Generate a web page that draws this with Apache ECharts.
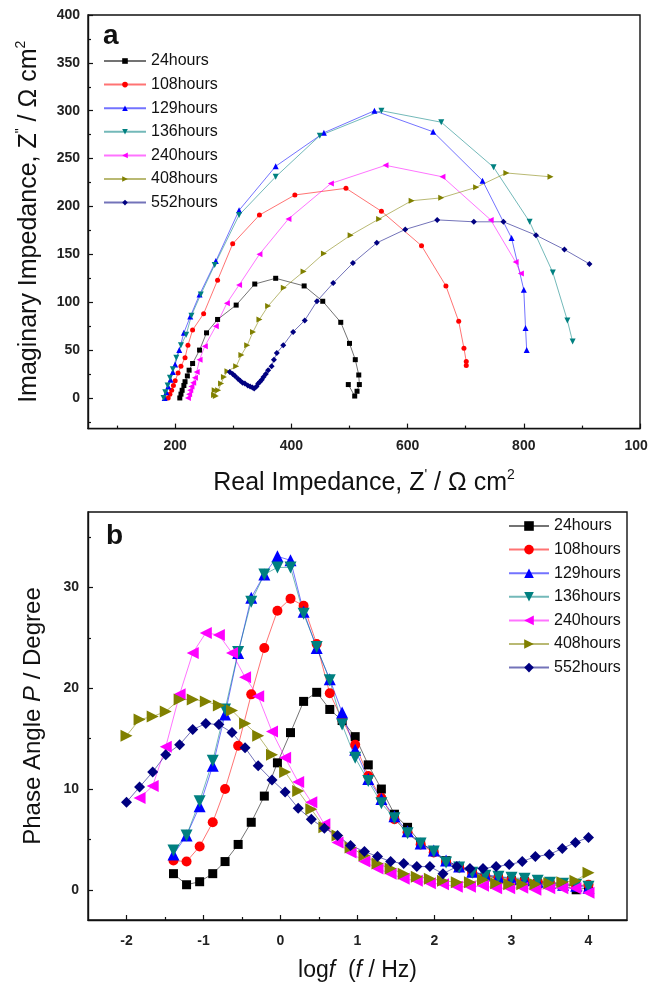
<!DOCTYPE html>
<html>
<head>
<meta charset="utf-8">
<script src="https://cdn.jsdelivr.net/npm/echarts@6/dist/echarts.min.js"></script>
<style>
  html, body { margin: 0; padding: 0; background: #fff; }
  #chart { width: 661px; height: 986px; }
</style>
</head>
<body>
<div id="chart"></div>
<script>
// ---- series names, colours and marker shapes ----
const seriesNames = ['24hours', '108hours', '129hours', '136hours', '240hours', '408hours', '552hours'];
const seriesColors = ['#000000', '#ff0000', '#0000ff', '#008080', '#ff00ff', '#808000', '#000080'];
const markerShapes = ['rect', 'circle', 'triangle', 'triangle', 'triangle', 'triangle', 'diamond'];
const markerTurns = [0, 0, 0, 180, 90, -90, 0];

// ---- panel a: Nyquist plots, [Z', Z''] in ohm cm2 ----
const nyq24 = [[208,0],[210,4],[212,8],[215,13],[217,17],[221,23],[224,29],[230,36],[242,50],[254,68],[273,82],[305,97],[337,119],[373,125],[422,117],[454,101],[485,79],[500,57],[510,40],[516,24],[517,14],[513,7],[509,2],[498,14]];
const nyq108 = [[188,0],[191,4],[194,8],[197,13],[200,18],[205,26],[210,33],[217,42],[222,55],[230,71],[249,88],[273,123],[299,161],[345,191],[406,212],[494,219],[555,195],[624,159],[666,117],[688,80],[697,52],[701,38],[701,34]];
const nyq129 = [[182,0],[185,6],[188,12],[192,19],[196,27],[200,35],[207,50],[215,68],[226,85],[242,108],[270,143],[310,196],[373,242],[456,277],[543,300],[644,278],[729,227],[779,167],[800,113],[803,73],[805,50]];
const nyq136 = [[180,0],[183,6],[187,13],[191,21],[196,30],[202,42],[210,55],[219,66],[228,86],[244,108],[268,139],[310,191],[373,231],[449,274],[555,300],[658,288],[748,241],[810,184],[850,131],[875,81],[884,59]];
const nyq240 = [[222,0],[224,4],[226,8],[228,12],[231,16],[234,21],[237,27],[242,40],[251,54],[270,75],[289,99],[310,118],[345,150],[395,187],[468,224],[562,243],[660,231],[743,186],[786,142],[795,130]];
const nyq408 = [[268,8],[267,3],[270,2],[274,8],[279,15],[284,22],[290,28],[305,33],[314,45],[324,55],[334,69],[345,82],[360,96],[387,115],[421,132],[456,151],[502,170],[551,187],[607,206],[658,209],[718,220],[770,235],[846,231]];
const nyq552 = [[294,27],[299,25],[303,23],[308,20],[312,18],[316,16],[320,15],[325,13],[329,12],[333,11],[336,10],[340,12],[343,15],[346,17],[349,19],[352,22],[356,25],[360,29],[366,33],[370,40],[375,47],[386,55],[403,69],[423,81],[444,101],[472,120],[506,141],[547,162],[596,176],[651,186],[714,184],[765,184],[821,170],[870,155],[913,140]];
const nyquistData = [nyq24, nyq108, nyq129, nyq136, nyq240, nyq408, nyq552];

// panel a axes
const aXRange = [50, 1000];
const aYRange = [-32, 400];
const aXTicks = [200, 400, 600, 800, 1000];
const aXMinor = [100, 300, 500, 700, 900];
const aYTicks = [0, 50, 100, 150, 200, 250, 300, 350, 400];
const aYMinor = [-25, 25, 75, 125, 175, 225, 275, 325, 375];

// ---- panel b: Bode phase plots, log f vs phase angle ----
const logfA = [-1.39,-1.22,-1.05,-0.88,-0.72,-0.55,-0.38,-0.21,-0.04,0.13,0.30,0.47,0.64,0.80,0.97,1.14,1.31,1.48,1.65,1.82,1.99,2.15,2.32,2.49,2.66,2.83,3.00,3.17,3.34,3.50,3.67,3.84,4.00];
const logfB = [-2.00,-1.83,-1.66,-1.49,-1.31,-1.14,-0.97,-0.80,-0.63,-0.46,-0.29,-0.11,0.06,0.23,0.40,0.57,0.74,0.91,1.09,1.26,1.43,1.60,1.77,1.94,2.11,2.29,2.46,2.63,2.80,2.97,3.14,3.31,3.49,3.66,3.83,4.00];

const phase24 = [1.6,0.5,0.8,1.6,2.8,4.5,6.7,9.3,12.6,15.6,18.7,19.6,17.9,16.8,15.2,12.4,10.0,7.5,6.2,4.7,3.8,2.9,2.3,1.8,1.4,1.1,0.9,0.8,0.6,0.5,0.4,0.0,0.2];
const phase108 = [2.9,2.8,4.3,6.7,10.0,14.3,19.4,24.0,27.7,28.9,28.2,24.4,19.5,16.9,14.4,11.3,9.1,7.0,5.7,4.5,3.7,2.8,2.2,1.7,1.4,1.2,1.0,0.9,0.8,0.6,0.5,0.4,0.5];
const phase129 = [3.5,5.4,8.3,12.3,17.4,23.5,29.0,31.3,33.1,32.7,27.6,24.0,20.9,17.6,13.9,11.0,9.0,7.3,5.8,4.6,3.9,2.9,2.3,1.8,1.5,1.3,1.1,1.0,0.8,0.7,0.5,0.4,0.2];
const phase136 = [3.9,5.4,8.8,12.8,17.9,23.6,28.6,31.3,32.0,32.0,27.4,24.1,20.8,16.4,13.1,10.8,8.6,7.1,5.6,4.6,3.8,2.7,2.2,1.7,1.4,1.3,1.2,1.1,0.9,0.7,0.6,0.5,0.3];
const phase240 = [null,9.1,10.3,14.2,19.4,23.5,25.5,25.3,23.5,21.1,19.2,15.7,13.1,10.7,8.7,6.5,4.7,3.7,2.8,2.1,1.6,1.1,0.9,0.65,0.55,0.3,0.3,0.4,0.15,0.15,0.2,0.0,0.15,0.15,0.15,-0.3];
const phase408 = [15.3,16.9,17.2,17.7,18.9,18.9,18.7,18.3,17.8,16.5,15.3,13.4,11.7,9.8,8.0,6.2,5.4,4.2,3.4,2.6,2.1,1.6,1.3,1.1,0.9,0.75,0.75,1.0,0.65,0.55,0.55,0.55,0.65,0.75,0.9,1.7];
const phase552 = [8.7,10.2,11.7,13.4,14.4,15.9,16.5,16.4,15.6,14.1,12.3,10.9,9.7,8.1,7.0,6.1,5.4,4.4,3.8,3.3,2.8,2.6,2.3,2.3,1.6,2.3,2.1,2.1,2.3,2.5,2.8,3.3,3.5,4.1,4.7,5.2];
const phaseData = [[logfA, phase24], [logfA, phase108], [logfA, phase129], [logfA, phase136], [logfB, phase240], [logfB, phase408], [logfB, phase552]];

// panel b axes
const bXRange = [-2.5, 4.5];
const bYRange = [-3, 37.5];
const bXTicks = [-2, -1, 0, 1, 2, 3, 4];
const bXMinor = [-1.5, -0.5, 0.5, 1.5, 2.5, 3.5];
const bYTicks = [0, 10, 20, 30];
const bYMinor = [5, 15, 25, 35];

// ---- styling ----
const FONT = "'Liberation Sans', Arial, sans-serif";
const INK = '#111';
const labelStyle = { fontFamily: FONT, fontSize: 14, fontWeight: 'bold', color: '#222', formatter: v => String(v) };
function titleStyle(size) {
  return {
    fontFamily: FONT, fontSize: size, color: INK, lineHeight: size + 5,
    rich: {
      sup: { fontFamily: FONT, fontSize: Math.round(size * 0.56), color: INK, lineHeight: 12, verticalAlign: 'top' },
      i: { fontFamily: FONT, fontSize: size, fontStyle: 'italic', color: INK }
    }
  };
}

function mainAxis(gridIndex, range, ticks, margin, extra) {
  return Object.assign({
    gridIndex, type: 'value', min: range[0], max: range[1],
    axisLine: { show: true, onZero: false, lineStyle: { color: INK, width: 1.4 } },
    axisTick: { show: true, inside: true, length: 5, customValues: ticks, lineStyle: { color: INK, width: 1.2 } },
    axisLabel: Object.assign({ customValues: ticks, margin }, labelStyle),
    splitLine: { show: false }
  }, extra);
}
function minorAxis(gridIndex, range, ticks, extra) {
  return Object.assign({
    gridIndex, type: 'value', min: range[0], max: range[1],
    axisLine: { show: false, onZero: false },
    axisTick: { show: true, inside: true, length: 3, customValues: ticks, lineStyle: { color: INK, width: 1.2 } },
    axisLabel: { show: false },
    splitLine: { show: false }
  }, extra);
}

const series = [];
nyquistData.forEach((pts, i) => {
  series.push({
    type: 'line', name: seriesNames[i], xAxisIndex: 0, yAxisIndex: 0,
    data: pts, symbol: markerShapes[i], symbolRotate: markerTurns[i],
    symbolSize: markerShapes[i] === 'triangle' || markerShapes[i] === 'diamond' ? 6 : 5,
    itemStyle: { color: seriesColors[i] },
    lineStyle: { color: seriesColors[i], width: 1, opacity: 0.55 },
    animation: false
  });
});
const bodeSizes = [9, 10, 12, 12, 12, 12, 11];
phaseData.forEach(([xs, ys], i) => {
  const pts = [];
  xs.forEach((x, k) => { if (ys[k] !== null) pts.push([x, ys[k]]); });
  series.push({
    type: 'line', name: seriesNames[i], xAxisIndex: 2, yAxisIndex: 2,
    data: pts, symbol: markerShapes[i], symbolRotate: markerTurns[i],
    symbolSize: bodeSizes[i],
    itemStyle: { color: seriesColors[i] },
    lineStyle: { color: seriesColors[i], width: 1, opacity: 0.55 },
    animation: false
  });
});

const legendText = { fontFamily: FONT, fontSize: 16, color: INK, lineHeight: 16 };

const option = {
  backgroundColor: '#fff',
  animation: false,
  grid: [
    { left: 88, top: 15, width: 552, height: 413.6, show: true, borderColor: INK, borderWidth: 1.4 },
    { left: 88, top: 512, width: 539, height: 413, show: true, borderColor: INK, borderWidth: 1.4 }
  ],
  xAxis: [
    mainAxis(0, aXRange, aXTicks, 11, {
      position: 'bottom',
      name: "Real Impedance, Z{sup|'} / Ω cm{sup|2}", nameLocation: 'middle', nameGap: 40,
      nameTextStyle: titleStyle(25)
    }),
    minorAxis(0, aXRange, aXMinor, { position: 'bottom' }),
    mainAxis(1, bXRange, bXTicks, 14, {
      position: 'bottom',
      name: 'log{i|f}  ({i|f} / Hz)', nameLocation: 'middle', nameGap: 37,
      nameTextStyle: titleStyle(23)
    }),
    minorAxis(1, bXRange, bXMinor, { position: 'bottom' })
  ],
  yAxis: [
    mainAxis(0, aYRange, aYTicks, 8, {
      position: 'left',
      name: 'Imaginary Impedance, Z{sup|"} / Ω cm{sup|2}', nameLocation: 'middle', nameGap: 44,
      nameTextStyle: titleStyle(25)
    }),
    minorAxis(0, aYRange, aYMinor, { position: 'left' }),
    mainAxis(1, bYRange, bYTicks, 9, {
      position: 'left',
      name: 'Phase Angle {i|P} / Degree', nameLocation: 'middle', nameGap: 40,
      nameTextStyle: titleStyle(24)
    }),
    minorAxis(1, bYRange, bYMinor, { position: 'left' })
  ],
  legend: [
    {
      data: seriesNames, orient: 'vertical', left: 103, top: 53, padding: 0,
      itemWidth: 42, itemHeight: 7, itemGap: 7.6,
      textStyle: legendText, selectedMode: false
    },
    {
      data: seriesNames, orient: 'vertical', left: 508, top: 518, padding: 0,
      itemWidth: 40, itemHeight: 12, itemGap: 7.6,
      textStyle: legendText, selectedMode: false
    }
  ],
  graphic: [
    { type: 'text', left: 103, top: 22, style: { text: 'a', font: 'bold 28px ' + FONT, fill: INK } },
    { type: 'text', left: 106, top: 522, style: { text: 'b', font: 'bold 28px ' + FONT, fill: INK } },
    // the figure is trimmed at its right edge
    { type: 'rect', right: 0, top: 0, shape: { width: 13, height: 986 }, style: { fill: '#fff' }, z: 100 }
  ],
  series
};

const chart = echarts.init(document.getElementById('chart'), null, { renderer: 'canvas' });
chart.setOption(option);
</script>
</body>
</html>
